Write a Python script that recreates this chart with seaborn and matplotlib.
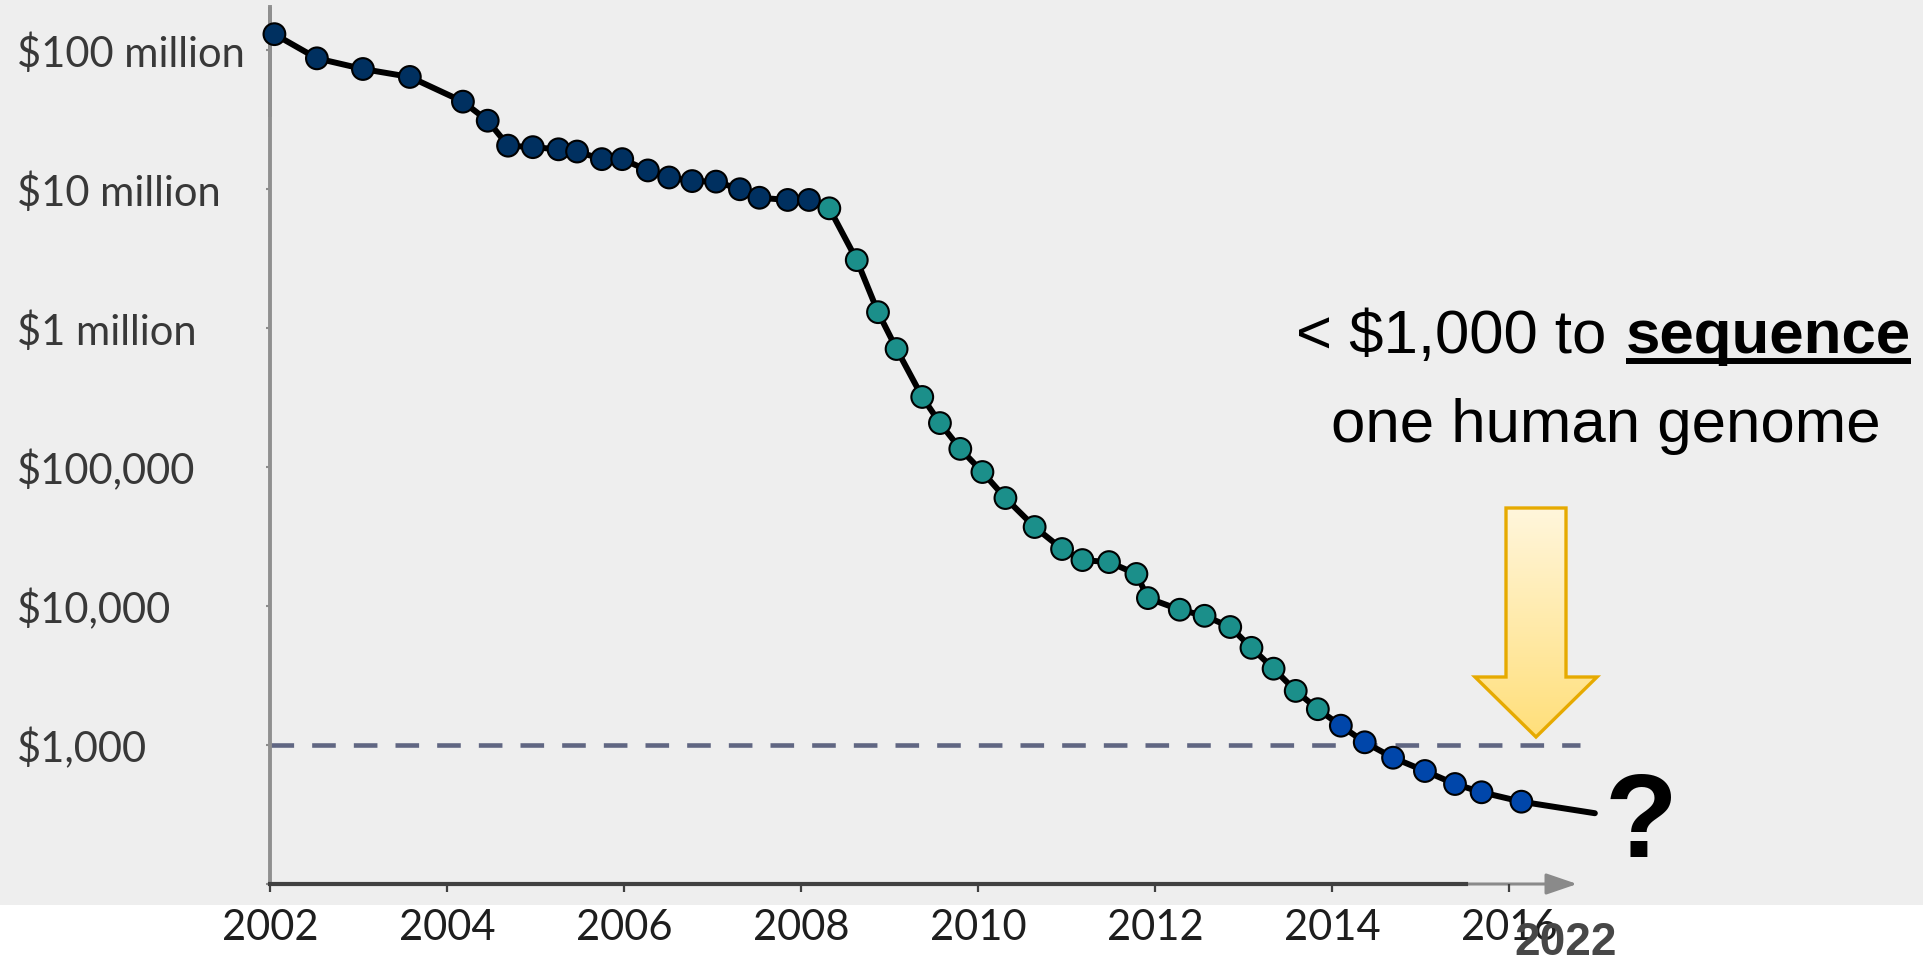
import numpy as np
import pandas as pd
import matplotlib
matplotlib.use("Agg")
import matplotlib.pyplot as plt
import seaborn as sns
from matplotlib import font_manager as fm
from matplotlib.patches import Rectangle, Polygon, FancyArrowPatch
from matplotlib.ticker import NullLocator
from matplotlib.colors import LinearSegmentedColormap

# ---------------- data ----------------
years = [2002.05, 2002.53, 2003.05, 2003.58, 2004.18, 2004.46, 2004.69, 2004.97, 2005.26, 2005.47,
         2005.75, 2005.98, 2006.27, 2006.51, 2006.77, 2007.04, 2007.31, 2007.53, 2007.85, 2008.09,
         2008.32, 2008.63, 2008.87, 2009.08, 2009.37, 2009.57, 2009.80, 2010.05, 2010.31, 2010.64,
         2010.95, 2011.18, 2011.48, 2011.79, 2011.92, 2012.28, 2012.56, 2012.85, 2013.09, 2013.34,
         2013.59, 2013.84,
         2014.10, 2014.37, 2014.69, 2015.05, 2015.39, 2015.69, 2016.14]
cost = [1.30e8, 8.71e7, 7.30e7, 6.40e7, 4.25e7, 3.10e7, 2.05e7, 2.00e7, 1.93e7, 1.86e7,
        1.64e7, 1.64e7, 1.36e7, 1.21e7, 1.14e7, 1.13e7, 9.96e6, 8.65e6, 8.34e6, 8.34e6,
        7.26e6, 3.08e6, 1.30e6, 7.06e5, 3.19e5, 2.07e5, 1.35e5, 9.2e4, 5.98e4, 3.70e4,
        2.57e4, 2.14e4, 2.07e4, 1.70e4, 1.14e4, 9.4e3, 8.5e3, 7.06e3, 5.0e3, 3.54e3,
        2.45e3, 1.81e3,
        1377, 1046, 810, 650, 524, 457, 391]
era = ["era 1"] * 20 + ["era 2"] * 22 + ["era 3"] * 7
era_colors = {"era 1": "#003060", "era 2": "#1b8f8a", "era 3": "#0046aa"}

proj_year = [2016.14, 2016.97]      # trend continuation (no marker)
proj_cost = [391, 323]

threshold = 1000
x_ticks = [2002, 2004, 2006, 2008, 2010, 2012, 2014, 2016]
y_ticks = [1e2, 1e3, 1e4, 1e5, 1e6, 1e7, 1e8]
y_labels = ["", "$1,000", "$10,000", "$100,000", "$1 million", "$10 million", "$100 million"]

headline_regular = "< $1,000 to"
headline_bold = "sequence"
headline_line2 = "one human genome"
question = "?"
future_year_label = "2022"

# ---------------- style ----------------
sns.set_theme(style="white")
plt.rcParams['font.family'] = ['Lato', 'DejaVu Sans']
plt.rcParams['lines.scale_dashes'] = False

names = {f.name for f in fm.fontManager.ttflist}
if 'Liberation Sans Narrow' in names:
    HEAD_FAM = ['Liberation Sans Narrow', 'DejaVu Sans']
    HEAD_SIZE = 51
    Q_SIZE = 91
else:
    HEAD_FAM = ['Liberation Sans', 'DejaVu Sans']
    HEAD_SIZE = 44.5
    Q_SIZE = 86

W, H = 1924, 961
fig = plt.figure(figsize=(W / 100, H / 100), dpi=100)
fig.patch.set_facecolor("white")
fig.add_artist(Rectangle((0, 1 - 905 / H), 1, 905 / H, transform=fig.transFigure,
                         facecolor="#eeeeee", edgecolor="none", zorder=-10))

# main axes: x=2002 at 270px, 88.5 px/yr; y: 1e2 at 884px, 139 px/decade
ax_left, ax_bottom_px = 270, 884
ax = fig.add_axes([ax_left / W, (H - ax_bottom_px) / H, (W - ax_left) / W, ax_bottom_px / H])
ax.set_facecolor("none")
ax.set_zorder(1)
ax.set_yscale("log")
ax.set_xlim(2002, 2002 + (W - ax_left) / 88.5)
ax.set_ylim(1e2, 10 ** (8 + 50 / 139))

# dashed $1,000 line
ax.plot([2002, 2016.80], [threshold, threshold], color="#606682", lw=3.3,
        dashes=(17, 13), zorder=1)

# trend line
line_df = pd.DataFrame({"year": years + proj_year[1:], "cost": cost + proj_cost[1:]})
sns.lineplot(data=line_df, x="year", y="cost", color="black", lw=4.3, ax=ax,
             estimator=None, sort=False, zorder=2, clip_on=False)

# markers
df = pd.DataFrame({"year": years, "cost": cost, "era": era})
sns.scatterplot(data=df, x="year", y="cost", hue="era", palette=era_colors, s=245,
                edgecolor="black", linewidth=1.5, legend=False, ax=ax, zorder=3, clip_on=False)

# axes styling
ax.set_xlabel("")
ax.set_ylabel("")
ax.set_xticks(x_ticks)
ax.set_xticklabels([str(x) for x in x_ticks])
ax.set_yticks(y_ticks)
ax.set_yticklabels(y_labels)
ax.yaxis.set_minor_locator(NullLocator())
for lbl in ax.get_yticklabels():
    lbl.set_ha("left")
ax.tick_params(axis="x", direction="out", length=5.8, width=1.6, color="#404040",
               pad=12, labelsize=30, labelcolor="#1e1e1e", bottom=True)
ax.tick_params(axis="y", direction="out", length=2.9, width=1.5, color="#8c8c8c",
               pad=179, labelsize=30, labelcolor="#383838", left=True)
for s in ["top", "right"]:
    ax.spines[s].set_visible(False)
ax.spines["left"].set_color("#8f8f8f")
ax.spines["left"].set_linewidth(2.8)
ax.spines["left"].set_bounds(1e2, 10 ** 8.31)
ax.spines["bottom"].set_color("#404040")
ax.spines["bottom"].set_linewidth(3.0)
ax.spines["bottom"].set_bounds(2002, 2015.51)

# slightly darker top segment of the y axis
ax.plot([2002, 2002], [10 ** (8 - 67 / 139), 10 ** 8.31], color="#7a7a7a", lw=2.8,
        solid_capstyle="butt", clip_on=False, zorder=1.5)

# light grey extension of the x axis with arrow head
arr = FancyArrowPatch((2015.50, 1e2), (2016.77, 1e2),
                      arrowstyle="-|>,head_length=19,head_width=6.5",
                      mutation_scale=1, color="#8a8a8a", lw=2.2,
                      shrinkA=0, shrinkB=0, clip_on=False, zorder=0.5)
ax.add_patch(arr)

# ---------------- overlay in pixel coordinates ----------------
ov = fig.add_axes([0, 0, 1, 1])
ov.set_xlim(0, W)
ov.set_ylim(H, 0)
ov.axis("off")
ov.set_facecolor("none")
ov.set_zorder(5)

# yellow down arrow with gradient
arrow_pts = [(1506, 508), (1566, 508), (1566, 677), (1597, 677), (1536, 737),
             (1475, 677), (1506, 677)]
poly = Polygon(arrow_pts, closed=True, facecolor="none", edgecolor="#e6aa00",
               lw=2.4, zorder=4, joinstyle="miter")
grad = np.linspace(0, 1, 256).reshape(-1, 1)
cmap = LinearSegmentedColormap.from_list("y", ["#fff6dc", "#ffdf7a"])
im = ov.imshow(grad, cmap=cmap, extent=(1475, 1597, 737, 508), aspect="auto",
               origin="upper", zorder=3)
fill = Polygon(arrow_pts, closed=True, transform=ov.transData)
im.set_clip_path(fill)
ov.add_patch(poly)
ov.set_xlim(0, W)
ov.set_ylim(H, 0)

# headline
renderer = fig.canvas.get_renderer()
t_bold = ov.text(1911, 353, headline_bold, ha="right", va="baseline",
                 fontsize=HEAD_SIZE, fontweight="bold", family=HEAD_FAM, color="black")
bb = t_bold.get_window_extent(renderer=renderer)
ov.text(bb.x0 - 19, 353, headline_regular, ha="right", va="baseline",
        fontsize=HEAD_SIZE, family=HEAD_FAM, color="black")
ov.plot([bb.x0, bb.x1], [361, 361], color="black", lw=4.3, solid_capstyle="butt")
ov.text(1606, 442, headline_line2, ha="center", va="baseline",
        fontsize=HEAD_SIZE, family=HEAD_FAM, color="black")

# question mark and 2022
ov.text(1641, 857, question, ha="center", va="baseline", fontsize=Q_SIZE,
        fontweight="bold", family=HEAD_FAM, color="black")
ov.text(1566, 955, future_year_label, ha="center", va="baseline", fontsize=33,
        fontweight="bold", family=['Liberation Sans', 'DejaVu Sans'], color="#474747")

fig.savefig("out.png", dpi=100, facecolor=fig.get_facecolor())
